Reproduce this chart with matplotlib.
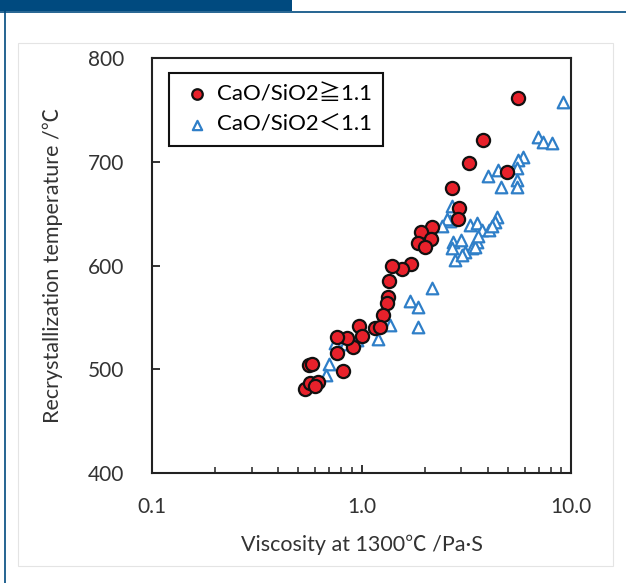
import numpy as np
import matplotlib
matplotlib.use("Agg")
import matplotlib.pyplot as plt
from matplotlib.patches import Rectangle
from matplotlib.lines import Line2D
from matplotlib.ticker import LogLocator, FixedLocator, NullFormatter

plt.rcParams['font.family'] = ['Lato', 'Noto Sans CJK JP', 'DejaVu Sans']

# CaO/SiO2 >= 1.1 (red circles)
high_visc = [5.58, 3.80, 3.26, 4.94, 2.70, 2.92, 2.89, 2.17, 1.92, 2.15, 1.86, 2.01,
             1.72, 1.56, 1.40, 1.35, 1.34, 1.33, 1.27, 1.16, 1.22, 0.97, 1.00, 0.91,
             0.85, 0.76, 0.76, 0.82, 0.56, 0.58, 0.54, 0.57, 0.62, 0.60]
high_temp = [761, 721, 699, 690, 675, 655, 645, 637, 632, 626, 622, 618,
             601, 597, 600, 585, 570, 564, 552, 540, 541, 542, 532, 521,
             530, 531, 516, 498, 504, 505, 481, 487, 488, 484]

# CaO/SiO2 < 1.1 (blue triangles)
low_visc = [9.16, 6.95, 7.35, 8.11, 5.90, 5.58, 5.53, 4.49, 4.02, 5.53, 4.63, 5.53,
            2.70, 2.65, 2.56, 2.42,
            3.30, 3.56, 3.76, 4.44, 4.34, 4.06, 4.20, 3.56, 2.73, 2.99, 3.37, 3.12,
            2.79, 3.03, 3.47, 2.70, 3.60,
            2.17, 1.71, 1.86, 1.86, 1.37, 1.20, 0.75, 0.83, 0.95, 0.70, 0.68]
low_temp = [758, 724, 719, 718, 705, 702, 694, 692, 686, 682, 676, 676,
            657, 643, 645, 638,
            639, 641, 634, 647, 642, 634, 638, 623, 623, 625, 617, 613,
            605, 610, 618, 617, 628,
            578, 566, 560, 541, 543, 529, 525, 524, 528, 505, 494]

x_ticks = [0.1, 1.0, 10.0]
x_labels = ["0.1", "1.0", "10.0"]
y_ticks = [400, 500, 600, 700, 800]

red = "#e8212b"
blue = "#2f7fc8"
navy = "#004a7f"

fig = plt.figure(figsize=(6.26, 5.83), dpi=100)

# page frame: header tab, rules, light panel (behind the axes)
fig.patches.append(Rectangle((0, 1 - 11 / 583), 292 / 626, 11 / 583, transform=fig.transFigure,
                             facecolor=navy, edgecolor='none', zorder=-5))
fig.add_artist(Line2D([0, 1], [1 - 11.5 / 583] * 2, color=navy, lw=1.2,
                      transform=fig.transFigure, zorder=-5))
fig.add_artist(Line2D([5 / 626] * 2, [0, 1 - 11 / 583], color=navy, lw=1.2,
                      transform=fig.transFigure, zorder=-5))
fig.patches.append(Rectangle((18 / 626, 1 - 566 / 583), 595 / 626, 523 / 583, transform=fig.transFigure,
                             facecolor='white', edgecolor='#e4e4e4', lw=0.8, zorder=-5))

ax = fig.add_axes([152 / 626, 1 - 473 / 583, 419 / 626, 415 / 583])
ax.set_zorder(2)
ax.scatter(high_visc, high_temp, s=90, marker='o', facecolor=red, edgecolor='#111111',
           linewidths=1.6, zorder=3, label="CaO/SiO2≧1.1")
ax.scatter(low_visc, low_temp, s=70, marker='^', facecolor='white', edgecolor=blue,
           linewidths=1.6, zorder=2, label="CaO/SiO2＜1.1")

ax.set_xscale('log')
ax.set_xlim(0.1, 10)
ax.set_ylim(400, 800)
ax.xaxis.set_major_locator(FixedLocator(x_ticks))
ax.set_xticklabels(x_labels)
ax.xaxis.set_minor_locator(LogLocator(base=10, subs=np.arange(2, 10)))
ax.xaxis.set_minor_formatter(NullFormatter())
ax.set_yticks(y_ticks)

ax.tick_params(axis='both', which='major', direction='in', length=6, width=1.3,
               labelsize=15, colors='#222222', labelcolor='#333333')
ax.tick_params(axis='x', which='minor', direction='in', length=4, width=1.1, colors='#222222')
ax.tick_params(axis='x', which='major', pad=17)
ax.tick_params(axis='y', which='major', pad=20)
for sp in ax.spines.values():
    sp.set_linewidth(1.5)
    sp.set_color('#222222')

ax.set_xlabel("Viscosity at 1300℃ /Pa·S", fontsize=15.5, color='#333333', labelpad=13)
ax.set_ylabel("Recrystallization temperature /℃", fontsize=15.5, color='#333333', labelpad=18)

leg = ax.legend(loc='upper left', bbox_to_anchor=(0.04, 0.965), borderaxespad=0,
                fontsize=16, frameon=True, fancybox=False, framealpha=1,
                markerscale=0.8, handletextpad=0.15, handlelength=1.5,
                borderpad=0.5, labelspacing=0.5)
leg.get_frame().set_edgecolor('#111111')
leg.get_frame().set_linewidth(1.5)

fig.savefig("out.png", dpi=100)
